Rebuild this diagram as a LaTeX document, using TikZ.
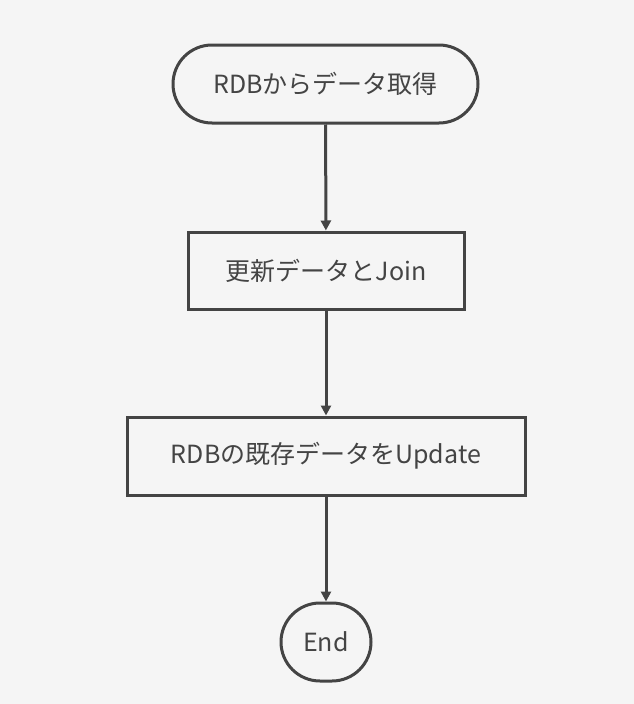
\documentclass[tikz,border=0pt]{standalone}
\usepackage{fontspec}
\setmainfont{Noto Sans CJK JP}
\usetikzlibrary{arrows.meta}
\definecolor{bg}{HTML}{F5F5F5}
\definecolor{ln}{HTML}{444444}
\begin{document}
\begin{tikzpicture}[x=1pt,y=-1pt,
  box/.style={draw=ln,line width=3pt,fill=bg,inner sep=0pt,font=\fontsize{25}{30}\selectfont,text=ln},
  arr/.style={draw=ln,line width=3pt,-{Triangle[length=10pt,width=10pt]}}]
\fill[bg] (0,0) rectangle (634,704);
\useasboundingbox (0,0) rectangle (634,704);
\node[box,rounded corners=39pt,minimum width=305pt,minimum height=78pt] (a) at (325.5,84) {RDBからデータ取得};
\node[box,minimum width=276pt,minimum height=77pt] (b) at (326,270.5) {更新データとJoin};
\node[box,minimum width=398pt,minimum height=78pt] (c) at (326,456) {RDBの既存データをUpdate};
\node[box,rounded corners=39pt,minimum width=90pt,minimum height=78pt] (d) at (326,642) {End};
\draw[arr] (a) -- (b);
\draw[arr] (b) -- (c);
\draw[arr] (c) -- (d);
\end{tikzpicture}
\end{document}
